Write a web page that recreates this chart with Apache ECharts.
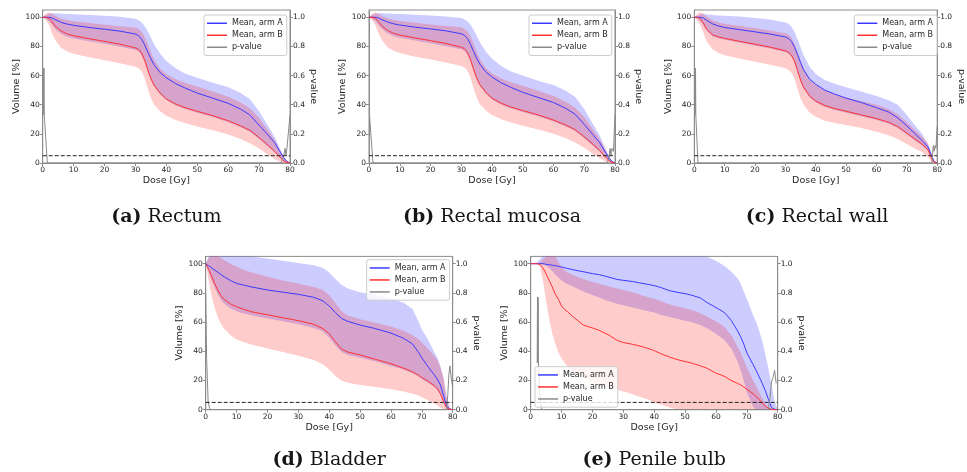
<!DOCTYPE html>
<html>
<head>
<meta charset="utf-8">
<script src="https://cdn.jsdelivr.net/npm/echarts@6/dist/echarts.min.js"></script>
<style>
  html, body { margin: 0; padding: 0; background: #ffffff; }
  #chart { width: 967px; height: 472px; }
</style>
</head>
<body>
<div id="chart"></div>
<script>
// Dose-volume histograms: mean ± SD for two treatment arms, with the p-value per dose bin.

// ---- Dose grids [Gy] ----
const doseRectal = [0,1,2,3,4,6,8,10,15,20,25,30,31,32,33,34,35,36,38,40,43,46,50,55,60,64,67,70,73,75,77,78,79,80];
const doseBladder = [0,1,2,3,4,5,6,8,10,12,15,20,25,30,35,38,40,42,44,46,50,55,60,64,67,69,70,72,74,75,76,77,78,79,80];
const doseBulb = [0,2,3,4,5,6,7,8,9,10,11,12,13,15,17,20,22,25,28,30,33,35,38,40,42,45,48,50,52,55,57,60,62,63,65,67,68,69,70,72,73,74,75,76,77,78,79,80];

// ---- (a) Rectum, volume [%] ----
const rectumMeanA  = [100,100,100,99.5,98.5,96.5,95.3,94.5,93,91.8,90.5,88.5,87.5,85,81,76,71.5,67.5,62,58.5,54.5,51.5,48,44.5,41,37,33,26,19,14,7,3.5,1,0];
const rectumMeanB  = [100,100,99.3,97,94,90.5,88.5,87.3,85.3,83.5,81.5,79,78,75.5,70.5,64,58,53.5,48,44,40.5,38,35.5,32.5,29,25.5,22.5,17.5,12,8,3.5,1.5,0.3,0];
const rectumUpperA = [100,101.5,102.5,102.7,102.7,102.5,102.3,102,101.5,101,100.3,99,98,96.5,94,90.5,86,81.5,75,70,65,61.5,58.5,55,52,48,44,35.5,25,18,9,4.5,1.3,0];
const rectumLowerA = [100,99,97.5,95,92,88.5,86.5,85.5,83.5,81.8,79.8,77.5,76.5,74,69,62.5,57,52.5,47,43,39.5,37,34.5,31.5,28,24.5,21.5,16.5,11,7.5,3,1.2,0.3,0];
const rectumUpperB = [100,102.5,103.5,102.5,101,99,98,97.3,96,94.8,93.8,93,92,90,86.5,81.5,76,71,64.5,61,57.5,55,52.5,49,45.5,41.5,37.5,31,22,16,8,4,1,0];
const rectumLowerB = [100,98,95,89,84.5,79,76.5,75,72.5,70.5,68.5,66,65,63,58,51,44.5,40,35.5,32.5,29.5,27.5,25,22.5,19.5,16.5,13.5,10,5.5,3,0.5,0,0,0];
const rectumPDose  = [0.1,0.2,0.3,0.4,0.5,1.5,77,77.6,78,78.4,78.7,79,79.5,80];
const rectumP      = [0.33,0.65,0.33,0.65,0.33,0,0,0.02,0.05,0.1,0.05,0.1,0.1,0.33];

// ---- (b) Rectal mucosa ----
const mucosaMeanA  = [100,100,100,99.5,98.5,96.8,95.5,94.7,93.2,92,90.7,88.7,87.7,85.5,81.5,76.5,72,68,62.5,59,55,52,48.5,45,41.5,37.5,33.5,26.5,19,14,7,3.5,1,0];
const mucosaMeanB  = [100,100,99.4,97.2,94.5,91,89,87.8,85.8,84,82,79.5,78.5,76,71,64.5,58.5,54,48.5,44.5,41,38.5,36,33,29.5,26,23,18,12.5,8.5,4,1.8,0.4,0];
const mucosaUpperA = [100,101.5,102.5,102.8,102.8,102.6,102.4,102.2,101.8,101.3,100.6,99.5,98.7,97.3,95,91.5,87.5,83,76.5,71.5,66.5,63,60,56.5,53.5,49.5,45.5,37,26,19,9.5,5,1.5,0];
const mucosaLowerA = [100,99,97.5,95,92.3,89,87,86,84,82.2,80.2,78,77,74.5,69.5,63,57.5,53,47.5,43.5,40,37.5,35,32,28.5,25,22,17,11.5,8,3.5,1.5,0.3,0];
const mucosaUpperB = [100,102.5,103.5,102.5,101,99.2,98.2,97.5,96.2,95,94,93.2,92.2,90.3,87,82,76.5,71.5,65,61.5,58,55.5,53,49.5,46,42,38,31.5,22.5,16.5,8.5,4.5,1.2,0];
const mucosaLowerB = [100,98,95,89.5,85,79.5,77,75.5,73,71,69,66.5,65.5,63.5,58.5,51.5,45,40.5,36,33,30,28,25.5,23,20,17,14,10.5,6,3.5,0.8,0,0,0];
const mucosaPDose  = [0.2,0.3,0.6,1.3,77.5,78,78.4,78.7,79,79.5,80];
const mucosaP      = [0.32,0.32,0.2,0,0,0.04,0.1,0.05,0.1,0.08,0.33];

// ---- (c) Rectal wall ----
const wallMeanA  = [100,100,100,99.5,98,95.5,94,93,91.5,90,88.5,86.5,85.5,83.5,79.5,74.5,69,64,57.5,54,50,47.5,44.5,41.5,38,35,31,25.5,19.5,15.5,11,6,1,0];
const wallMeanB  = [100,100,99,96,92,88,86.5,85.5,83.5,81.5,79.5,77,76,74,70,63.5,57,52,46,42.5,39.5,37.5,35.5,33,30.5,28,25,20.5,16,13,9,4,0.5,0];
const wallUpperA = [100,101,102,102.3,102,101.5,101.2,101,100.5,99.5,98.5,96.5,95.5,93.5,90,85,79.5,74,66,61,57,54.5,52,49,46,43,40,33,25,20,13,7,1.5,0];
const wallLowerA = [100,99,97.5,94.5,91,87,85.5,84.5,82.5,80.5,78.5,76,75,73,69,62.5,56,51,45,41.5,38.5,36.5,34.5,32,29.5,27,24,19.5,15,12,8,3,0.3,0];
const wallUpperB = [100,102.5,103.5,102.5,100.5,98,96.5,95.5,94,92.5,91,89,88,86,82,76,70,64.5,57.5,53.5,50,47.5,45,42.5,40,37,33.5,28,22,18,13,5.5,1,0];
const wallLowerB = [100,97.5,94.5,89.5,83.5,78,75.5,74,71.5,69.5,67.5,65,64,62,58,51,44.5,40,34.5,31.5,29,27.5,26,24,21.5,19,16.5,13,9.5,7.5,4,1,0,0];
const wallPDose  = [0.1,0.2,0.3,0.4,0.5,1.2,78.3,78.7,79,79.3,79.6,80];
const wallP      = [0.33,0.65,0.33,0.65,0.33,0,0,0.12,0.08,0.12,0.1,0.25];

// ---- (d) Bladder ----
const bladderMeanA  = [100,98.5,97,95.5,94,92.5,91,88.5,86.5,85.5,84,82,80.5,79,77,74.5,71,66.5,62.5,60.5,58,55.5,52.5,49,45,39,35.5,29.5,24,21,17,10,2.5,0.5,0];
const bladderMeanB  = [100,96,91,86,81.5,78,75.5,72.5,70.5,69,67,65,63,61,58.5,55.5,52,46.5,41.5,39.5,37.5,34.5,31.5,28.5,26,23.5,22,19.5,16.5,14.5,11,6,1.5,0.3,0];
const bladderUpperA = [100,105,108,109,109,109,108.5,107.5,107,106,105,103.5,102,100.5,99,97,94,89.5,85.5,83,80.5,78.5,76,73.5,69,60,55,48,39.5,36,30,22,9,1.5,0];
const bladderLowerA = [100,94,88,83,78.5,75,72.5,69.5,67.5,66,64.5,62.5,60.5,58.5,56,53.5,49.5,44,39.5,37.5,35.5,33,30,27.5,25,22.5,21,18.5,15.5,13.5,10.5,5,0.5,0,0];
const bladderUpperB = [100,104,106,106,105,104,102.5,100,98,96,94,91,88.5,86.5,84,82,78.5,73,67.5,64.5,62,59.5,57,54,51,48,46,41.5,37,34,29,22,8,1,0];
const bladderLowerB = [100,88,77,69,63,58.5,55.5,51,48,46.5,44.5,42,39.5,37,34,31,27.5,23,20,18.5,17,15.5,14,12.5,11,9.5,8.5,6.5,4,3,1.5,0.5,0,0,0];
const bladderPDose  = [0,0.3,0.8,1.4,78,78.4,78.8,79.1,79.5,80];
const bladderP      = [0.8,0.35,0.05,0,0,0.1,0.25,0.3,0.22,0.15];

// ---- (e) Penile bulb ----
const bulbMeanA  = [100,100,100,100,99.6,99.3,99,98.6,98.2,97.7,97.2,96.7,96.2,95.3,94.5,93.2,92.6,91,89.2,88.6,87.8,87,85.8,85,83.8,81.5,80.2,79.5,78.5,76.5,73.5,70,67.5,66,61,54,50,45,39,31,27,22.5,18,13,7,1.5,0.3,0];
const bulbMeanB  = [100,100,99.5,97,93,88.5,84,79,75.5,71,68.5,67,65,61.5,58,56,54.5,51.5,47.5,46,44.8,43.8,42,40.5,38.5,36,34,33,32,30,28.5,25,23.5,22.5,20,18,17,15.5,14,11,9,7,4.5,2.5,1,0.3,0,0];
const bulbUpperA = [100,101,103,106,110,114,117,119,120,121,121,121,121,120.5,120,119,118,117,116,115,114,113,112,111,110.5,109.5,108.5,108,107,106,105,102,99.5,98,94.5,90,86.5,81,76,65,60,54,47,38,28,17,6,0];
const bulbLowerA = [100,100,100,99.5,98.5,97,95,92.5,90.5,88.5,87,86,85,83,81,78.5,77,74.5,72.5,71.5,70,69,67.5,66.5,65,63.5,62,61,60,58,56,52,49,47,42,33,27,20,12,2,0,0,0,0,0,0,0,0];
const bulbUpperB = [100,100,101,103,105,106.5,106.5,105,101,97.5,95.5,94,93,91,89.5,87.5,86.5,84.5,83,82,80.5,79,77,76,74.5,72,70.5,69.5,68.5,66,64,60.5,58,56,51,43,39,34,29,20,16.5,12,8,4,1,0,0,0];
const bulbLowerB = [100,100,98,88,74,62,52,45,39,35,32,29.5,27.5,24,21.5,19,17.5,15.5,13.5,12.5,10.5,9,7,5,3.5,1.5,0,0,0,0,0,0,0,0,0,0,0,0,0,0,0,0,0,0,0,0,0,0];
const bulbPDose  = [2.1,2.2,2.3,2.4,2.5,3.0,3.6,4,77,77.5,78,78.5,79,79.5];
const bulbP      = [0.32,0.77,0.32,0.77,0.32,0.1,0,0,0,0.08,0.19,0.22,0.27,0.18];

// ---- Labels and ticks ----
const seriesNames   = ['Mean, arm A', 'Mean, arm B', 'p-value'];
const captionTags   = ['(a)', '(b)', '(c)', '(d)', '(e)'];
const captionNames  = ['Rectum', 'Rectal mucosa', 'Rectal wall', 'Bladder', 'Penile bulb'];
const doseTicks     = [0, 10, 20, 30, 40, 50, 60, 70, 80];
const volumeTicks   = [0, 20, 40, 60, 80, 100];
const pTicks        = [0, 0.2, 0.4, 0.6, 0.8, 1.0];
const pThreshold    = 0.05;

// ---- Panel table built from the arrays above ----
const panels = [
  { dose: doseRectal,  meanA: rectumMeanA,  meanB: rectumMeanB,  upA: rectumUpperA,  loA: rectumLowerA,  upB: rectumUpperB,  loB: rectumLowerB,  pDose: rectumPDose,  p: rectumP },
  { dose: doseRectal,  meanA: mucosaMeanA,  meanB: mucosaMeanB,  upA: mucosaUpperA,  loA: mucosaLowerA,  upB: mucosaUpperB,  loB: mucosaLowerB,  pDose: mucosaPDose,  p: mucosaP },
  { dose: doseRectal,  meanA: wallMeanA,    meanB: wallMeanB,    upA: wallUpperA,    loA: wallLowerA,    upB: wallUpperB,    loB: wallLowerB,    pDose: wallPDose,    p: wallP },
  { dose: doseBladder, meanA: bladderMeanA, meanB: bladderMeanB, upA: bladderUpperA, loA: bladderLowerA, upB: bladderUpperB, loB: bladderLowerB, pDose: bladderPDose, p: bladderP },
  { dose: doseBulb,    meanA: bulbMeanA,    meanB: bulbMeanB,    upA: bulbUpperA,    loA: bulbLowerA,    upB: bulbUpperB,    loB: bulbLowerB,    pDose: bulbPDose,    p: bulbP }
];

// Plot rectangles and legend anchors, in pixels
const boxes = [
  { left: 42.7,  top: 10,    width: 247.3, height: 153,   legLeft: 204,   legTop: 15 },
  { left: 369,   top: 10,    width: 246,   height: 153,   legLeft: 529,   legTop: 15 },
  { left: 694.3, top: 10,    width: 245.7, height: 153,   legLeft: 854.3, legTop: 15 },
  { left: 205.7, top: 256.4, width: 247,   height: 153.3, legLeft: 366.7, legTop: 259.7 },
  { left: 530.7, top: 256.4, width: 247,   height: 153.3, legLeft: 535,   legTop: 366.7 }
];
const captionRows = [217, 217, 217, 460, 460];

const SANS = 'DejaVu Sans';
const SERIF = 'DejaVu Serif';
const FRAME = '#8c8c8c';
const TEXT = '#262626';
const BLUE = '#3b3bff';
const RED = '#ff3232';
const GREY = '#8a8a8a';
const BLUE_FILL = 'rgba(0,0,255,0.2)';
const RED_FILL = 'rgba(255,0,0,0.2)';

const zip = (xs, ys) => xs.map((x, i) => [x, ys[i]]);

function bandSeries(gi, dose, upper, lower, fill) {
  return {
    type: 'custom',
    name: 'band-' + gi + '-' + fill,
    xAxisIndex: gi,
    yAxisIndex: gi * 2,
    clip: true,
    silent: true,
    z: 1,
    data: [[dose[0], lower[0]]],
    renderItem(params, api) {
      const pts = [];
      for (let i = 0; i < dose.length; i++) pts.push(api.coord([dose[i], upper[i]]));
      for (let i = dose.length - 1; i >= 0; i--) pts.push(api.coord([dose[i], lower[i]]));
      return { type: 'polygon', shape: { points: pts }, style: { fill: fill, stroke: null } };
    }
  };
}

function lineSeries(gi, yIndex, name, data, color, z, extra) {
  return Object.assign({
    type: 'line',
    name: name,
    xAxisIndex: gi,
    yAxisIndex: yIndex,
    data: data,
    color: color,
    showSymbol: false,
    symbol: 'none',
    silent: true,
    z: z,
    lineStyle: { color: color, width: 1 }
  }, extra || {});
}

const grid = [], xAxis = [], yAxis = [], series = [], legend = [], graphic = [];

panels.forEach((pn, gi) => {
  const b = boxes[gi];
  grid.push({
    left: b.left, top: b.top, width: b.width, height: b.height,
    show: true, borderColor: FRAME, borderWidth: 1, backgroundColor: 'transparent'
  });

  xAxis.push({
    type: 'value', gridIndex: gi, min: 0, max: 80, interval: 10,
    name: 'Dose [Gy]', nameLocation: 'middle', nameGap: 13,
    nameTextStyle: { fontFamily: SANS, fontSize: 9.5, color: TEXT },
    axisLine: { show: true, lineStyle: { color: FRAME, width: 1 } },
    axisTick: { show: true, inside: false, length: 3, lineStyle: { color: FRAME }, customValues: doseTicks },
    axisLabel: { fontFamily: SANS, fontSize: 7.5, color: TEXT, margin: 3, customValues: doseTicks },
    splitLine: { show: false }
  });

  yAxis.push({
    type: 'value', gridIndex: gi, position: 'left', min: 0, max: 105, interval: 20,
    name: 'Volume [%]', nameLocation: 'middle', nameRotate: 90, nameGap: 20,
    nameTextStyle: { fontFamily: SANS, fontSize: 9.5, color: TEXT },
    axisLine: { show: true, onZero: false, lineStyle: { color: FRAME, width: 1 } },
    axisTick: { show: true, inside: false, length: 3, lineStyle: { color: FRAME }, customValues: volumeTicks },
    axisLabel: { fontFamily: SANS, fontSize: 7.5, color: TEXT, margin: 3, customValues: volumeTicks },
    splitLine: { show: false }
  });

  yAxis.push({
    type: 'value', gridIndex: gi, position: 'right', min: 0, max: 1.05, interval: 0.2,
    name: 'p-value', nameLocation: 'middle', nameRotate: -90, nameGap: 18,
    nameTextStyle: { fontFamily: SANS, fontSize: 9.5, color: TEXT },
    axisLine: { show: true, onZero: false, lineStyle: { color: FRAME, width: 1 } },
    axisTick: { show: true, inside: false, length: 3, lineStyle: { color: FRAME }, customValues: pTicks },
    axisLabel: { fontFamily: SANS, fontSize: 7.5, color: TEXT, margin: 3, customValues: pTicks,
                 formatter: v => v.toFixed(1) },
    splitLine: { show: false }
  });

  series.push(bandSeries(gi, pn.dose, pn.upA, pn.loA, BLUE_FILL));
  series.push(bandSeries(gi, pn.dose, pn.upB, pn.loB, RED_FILL));
  series.push(lineSeries(gi, gi * 2, seriesNames[0], zip(pn.dose, pn.meanA), BLUE, 2));
  series.push(lineSeries(gi, gi * 2, seriesNames[1], zip(pn.dose, pn.meanB), RED, 2));
  series.push(lineSeries(gi, gi * 2 + 1, seriesNames[2], zip(pn.pDose, pn.p), GREY, 3));
  series.push(lineSeries(gi, gi * 2 + 1, 'p = ' + pThreshold, [[0, pThreshold], [80, pThreshold]], '#222222', 3,
    { lineStyle: { color: '#222222', width: 1, type: [4, 2] } }));

  legend.push({
    left: b.legLeft, top: b.legTop, orient: 'vertical',
    data: seriesNames, icon: 'rect', itemWidth: 20, itemHeight: 1.5, itemGap: 1.5,
    padding: [3, 4, 3, 3], borderColor: '#cccccc', borderWidth: 1, borderRadius: 2,
    backgroundColor: 'rgba(255,255,255,0.8)', selectedMode: false,
    textStyle: { fontFamily: SANS, fontSize: 8, color: TEXT, lineHeight: 10.5 }
  });

  graphic.push({
    type: 'text',
    x: b.left + b.width / 2,
    y: captionRows[gi],
    style: {
      text: '{b|' + captionTags[gi] + '} ' + captionNames[gi],
      fontFamily: SERIF, fontSize: 19, fill: '#161616',
      align: 'center', verticalAlign: 'middle',
      rich: { b: { fontFamily: SERIF, fontSize: 19, fontWeight: 'bold', fill: '#161616' } }
    }
  });
});

const chart = echarts.init(document.getElementById('chart'), null, { renderer: 'canvas' });
chart.setOption({
  animation: false,
  backgroundColor: '#ffffff',
  grid: grid,
  xAxis: xAxis,
  yAxis: yAxis,
  legend: legend,
  series: series,
  graphic: graphic
});
</script>
</body>
</html>
